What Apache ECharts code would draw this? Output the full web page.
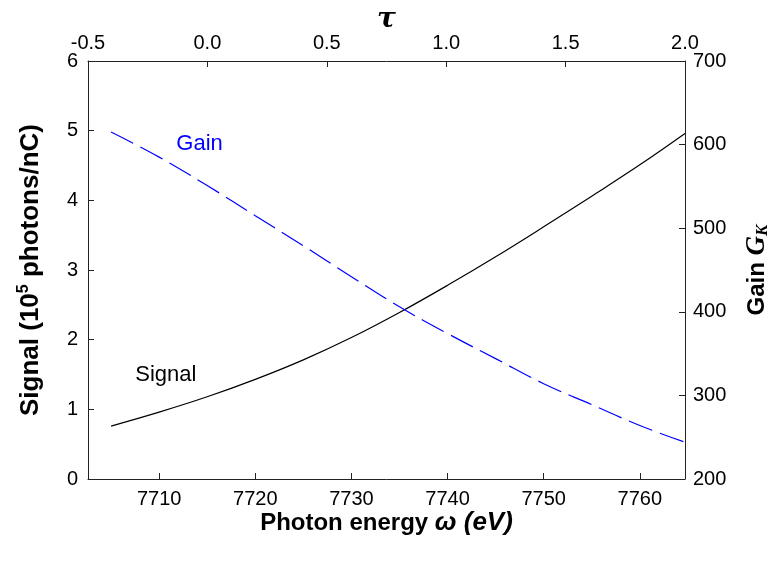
<!DOCTYPE html>
<html>
<head>
<meta charset="utf-8">
<script src="https://cdn.jsdelivr.net/npm/echarts@6/dist/echarts.min.js"></script>
<style>html,body{margin:0;padding:0;background:#fff;}#c{width:779px;height:561px;}</style>
</head>
<body>
<div id="c"></div>
<script>
// Photon energy (eV)
const energy = [7705, 7710, 7715, 7720, 7725, 7730, 7735, 7740, 7745, 7750, 7755, 7760, 7764.7];
// Signal (10^5 photons/nC)
const signal = [0.76, 0.96, 1.18, 1.43, 1.71, 2.03, 2.39, 2.78, 3.19, 3.62, 4.06, 4.51, 4.96];
// Gain G_K
const gain = [615, 585, 551, 515, 479, 442, 406, 374, 344, 314, 289, 264, 244];
const xRange = [7702.6, 7764.7];
const tauRange = [-0.5, 2.0];
const signalRange = [0, 6];
const gainRange = [200, 700];

const FONT = 'Liberation Sans, Arial, sans-serif';
const AXC = '#222';
const chart = echarts.init(document.getElementById('c'), null, {renderer: 'canvas'});
const lbl = {color: '#000', fontSize: 20, fontFamily: FONT};
const axLine = {show: true, onZero: false, lineStyle: {color: AXC, width: 1}};
const axTick = {show: true, inside: true, length: 6, lineStyle: {color: AXC, width: 1}};

chart.setOption({
  animation: false,
  backgroundColor: '#fff',
  grid: {left: 88, right: 94, top: 61, bottom: 82, containLabel: false, outerBoundsMode: 'none'},
  xAxis: [
    {
      type: 'value', position: 'bottom', min: xRange[0], max: xRange[1],
      axisLine: axLine, axisTick: axTick, splitLine: {show: false},
      axisLabel: Object.assign({margin: 10, showMinLabel: false, showMaxLabel: false,
        formatter: v => (Math.abs(v - Math.round(v)) < 1e-6 && Math.round(v) % 10 === 0) ? String(Math.round(v)) : ''}, lbl),
      name: '{b|Photon energy }{i|ω (eV)}', nameLocation: 'middle', nameGap: 31, nameMoveOverlap: false,
      nameTextStyle: {rich: {
        b: {fontSize: 24, fontWeight: 'bold', fontFamily: FONT, color: '#000'},
        i: {fontSize: 26, fontWeight: 'bold', fontStyle: 'italic', fontFamily: FONT, color: '#000'}
      }}
    },
    {
      type: 'value', position: 'top', min: tauRange[0], max: tauRange[1], interval: 0.5,
      axisLine: axLine, axisTick: axTick, splitLine: {show: false},
      axisLabel: Object.assign({margin: 8, formatter: v => v.toFixed(1)}, lbl),
      name: 'τ', nameLocation: 'middle', nameGap: 27, nameMoveOverlap: false,
      nameTextStyle: {fontSize: 28, fontWeight: 'bold', fontStyle: 'italic', fontFamily: 'DejaVu Serif, serif', color: '#000'}
    }
  ],
  yAxis: [
    {
      type: 'value', position: 'left', min: signalRange[0], max: signalRange[1], interval: 1,
      axisLine: axLine, axisTick: axTick, splitLine: {show: false},
      axisLabel: Object.assign({margin: 10}, lbl),
      name: '{b|Signal (10}{s|5}{b| photons/nC)}', nameLocation: 'middle', nameGap: 42, nameRotate: 90, nameMoveOverlap: false,
      nameTextStyle: {rich: {
        b: {fontSize: 26, fontWeight: 'bold', fontFamily: FONT, color: '#000', lineHeight: 30},
        s: {fontSize: 16, fontWeight: 'bold', fontFamily: FONT, color: '#000', verticalAlign: 'top', lineHeight: 30}
      }}
    },
    {
      type: 'value', position: 'right', min: gainRange[0], max: gainRange[1], interval: 100,
      axisLine: axLine, axisTick: axTick, splitLine: {show: false},
      axisLabel: Object.assign({margin: 8}, lbl),
      name: '{b|Gain }{i|G}{s|K}', nameLocation: 'middle', nameGap: 58, nameRotate: 90, nameMoveOverlap: false,
      nameTextStyle: {rich: {
        b: {fontSize: 24, fontWeight: 'bold', fontFamily: FONT, color: '#000', lineHeight: 28},
        i: {fontSize: 27, fontWeight: 'bold', fontStyle: 'italic', fontFamily: 'Liberation Serif, serif', color: '#000', lineHeight: 28},
        s: {fontSize: 17, fontWeight: 'bold', fontStyle: 'italic', fontFamily: 'Liberation Serif, serif', color: '#000', verticalAlign: 'bottom', lineHeight: 28}
      }}
    }
  ],
  series: [
    {
      type: 'line', name: 'Signal', xAxisIndex: 0, yAxisIndex: 0,
      data: energy.map((e, i) => [e, signal[i]]),
      smooth: 0.4, symbol: 'none',
      lineStyle: {color: '#000', width: 1.2},
      markPoint: {
        symbol: 'rect', symbolSize: 0,
        label: {show: true, formatter: 'Signal', color: '#000', fontSize: 22, fontFamily: FONT},
        data: [{coord: [7710.7, 1.50]}]
      }
    },
    {
      type: 'line', name: 'Gain', xAxisIndex: 0, yAxisIndex: 1,
      data: energy.map((e, i) => [e, gain[i]]),
      smooth: 0.4, symbol: 'none',
      lineStyle: {color: '#0000ff', width: 1.2, type: [25, 8]},
      markPoint: {
        symbol: 'rect', symbolSize: 0,
        label: {show: true, formatter: 'Gain', color: '#0000ff', fontSize: 22, fontFamily: FONT},
        data: [{coord: [7714.2, 601]}]
      }
    }
  ]
});
</script>
</body>
</html>
